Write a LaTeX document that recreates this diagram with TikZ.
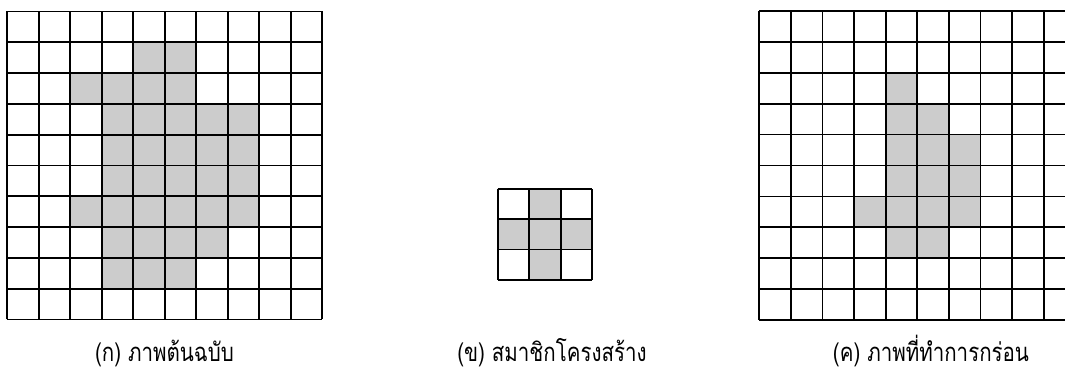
\documentclass[tikz,border=0pt]{standalone}
\usepackage{fontspec}
\newfontfamily\thaifont[Script=Thai]{Loma}
\usepackage{tikz}
\usetikzlibrary{positioning}

\begin{document}
\begin{tikzpicture}[x=1pt,y=1pt,
  cell/.style={fill=black!20},
  gridline/.style={line width=1.7pt,step=1},
  caption/.style={font=\thaifont\fontsize{20.5}{24}\selectfont,anchor=base,
    inner sep=0pt,yscale=1.25,transform shape}]
  \useasboundingbox (0,0) rectangle (1065,374);
  \fill[white] (0,0) rectangle (1065,374);
  % original picture
  \begin{scope}[shift={(7.3,54.5)},x=31.5pt,y=30.8pt]
    \foreach \c/\r in {4/1,5/1, 2/2,3/2,4/2,5/2, 3/3,4/3,5/3,6/3,7/3,
                       3/4,4/4,5/4,6/4,7/4, 3/5,4/5,5/5,6/5,7/5,
                       2/6,3/6,4/6,5/6,6/6,7/6, 3/7,4/7,5/7,6/7, 3/8,4/8,5/8}
      \fill[cell] (\c,9-\r) rectangle ++(1,1);
    \draw[gridline] (0,0) grid (10,10);
  \end{scope}
  % structuring element
  \begin{scope}[shift={(497.7,94)},x=31.5pt,y=30.4pt]
    \foreach \c/\r in {1/0, 0/1,1/1,2/1, 1/2}
      \fill[cell] (\c,2-\r) rectangle ++(1,1);
    \draw[gridline] (0,0) grid (3,3);
  \end{scope}
  % eroded picture
  \begin{scope}
    \clip (0,0) rectangle (1065,374);
    \begin{scope}[shift={(759.3,54)},x=31.6pt,y=30.9pt]
      \foreach \c/\r in {4/2, 4/3,5/3, 4/4,5/4,6/4, 4/5,5/5,6/5,
                         3/6,4/6,5/6,6/6, 4/7,5/7}
        \fill[cell] (\c,9-\r) rectangle ++(1,1);
      \draw[gridline] (0,0) grid (10,10);
    \end{scope}
  \end{scope}
  % captions
  \node[caption] (capa) at (164.5,12) {(ก) ภาพต้นฉบับ};
  \node[caption] (capb) at (552,12) {(ข) สมาชิกโครงสร้าง};
  \node[caption] (capc) at (931,12) {(ค) ภาพที่ทำการกร่อน};
\end{tikzpicture}
\end{document}
